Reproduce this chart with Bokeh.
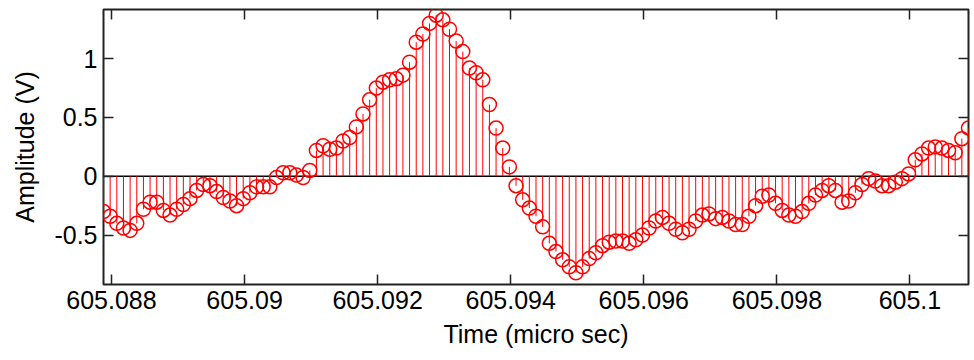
from bokeh.plotting import figure
from bokeh.models import Range1d, FixedTicker, LinearAxis, ColumnDataSource, CustomLabelingPolicy
from bokeh.embed import file_html
from bokeh.resources import INLINE

# ---- data ----
t_start = 605.08788          # micro sec, first sample
dt = 0.0001                  # sampling step (micro sec)
amplitude = [
    -0.30, -0.34, -0.40, -0.44, -0.46, -0.40, -0.28, -0.22, -0.22, -0.29,
    -0.33, -0.28, -0.24, -0.19, -0.12, -0.07, -0.08, -0.13, -0.18, -0.21,
    -0.25, -0.19, -0.14, -0.09, -0.09, -0.09, -0.01, 0.03, 0.03, 0.01,
    -0.01, 0.05, 0.22, 0.26, 0.23, 0.24, 0.30, 0.33, 0.42, 0.53,
    0.65, 0.75, 0.80, 0.82, 0.83, 0.86, 0.97, 1.14, 1.21, 1.30,
    1.37, 1.33, 1.25, 1.15, 1.06, 0.92, 0.88, 0.82, 0.61, 0.41,
    0.24, 0.08, -0.08, -0.20, -0.27, -0.34, -0.43, -0.57, -0.64, -0.71,
    -0.77, -0.82, -0.77, -0.70, -0.65, -0.59, -0.56, -0.55, -0.55, -0.57,
    -0.54, -0.50, -0.44, -0.38, -0.35, -0.40, -0.45, -0.48, -0.45, -0.38,
    -0.33, -0.32, -0.36, -0.35, -0.38, -0.41, -0.41, -0.34, -0.25, -0.17,
    -0.16, -0.23, -0.29, -0.33, -0.34, -0.30, -0.23, -0.16, -0.12, -0.08,
    -0.12, -0.22, -0.21, -0.14, -0.07, -0.02, -0.04, -0.08, -0.08, -0.05,
    -0.02, 0.02, 0.14, 0.19, 0.24, 0.25, 0.24, 0.22, 0.20, 0.32,
    0.41,
]
time_us = [round(t_start + i * dt, 5) for i in range(len(amplitude))]

xtick_values = [605.088, 605.09, 605.092, 605.094, 605.096, 605.098, 605.1]
xtick_labels = ["605.088", "605.09", "605.092", "605.094", "605.096", "605.098", "605.1"]
ytick_values = [-0.5, 0, 0.5, 1]
ytick_labels = ["-0.5", "0", "0.5", "1"]
x_label = "Time (micro sec)"
y_label = "Amplitude (V)"
y_limits = (-0.92, 1.418)

FONT = "Liberation Sans"
AX = "#222222"

src = ColumnDataSource(dict(t=time_us, v=amplitude, z=[0] * len(amplitude)))

p = figure(width=973, height=358, output_backend="svg", toolbar_location=None,
           x_range=Range1d(time_us[0], time_us[-1]),
           y_range=Range1d(*y_limits),
           min_border_left=103, min_border_right=2, min_border_top=9, min_border_bottom=74)
p.background_fill_color = "white"
p.border_fill_color = "white"
p.grid.visible = False
p.outline_line_color = AX
p.outline_line_width = 2

# baseline
p.line(x=[time_us[0], time_us[-1]], y=[0, 0], line_color="black", line_width=1.5)
# stems
p.segment(x0="t", y0="z", x1="t", y1="v", source=src, line_color="#ff0000", line_width=1)
# markers
p.scatter(x="t", y="v", source=src, marker="circle", size=14,
          fill_color=None, line_color="#ff0000", line_width=1.5)

def style(ax, labels=True):
    ax.axis_line_color = None
    ax.major_tick_in = 10
    ax.major_tick_out = 0
    ax.major_tick_line_color = AX
    ax.major_tick_line_width = 1.5
    ax.minor_tick_line_color = None
    if labels:
        ax.major_label_text_font = FONT
        ax.major_label_text_font_size = "25px"
        ax.major_label_text_color = "black"
        ax.axis_label_text_font = FONT
        ax.axis_label_text_font_size = "25px"
        ax.axis_label_text_font_style = "normal"
        ax.axis_label_text_color = "black"
    else:
        ax.major_label_text_font_size = "1px"
        ax.major_label_policy = CustomLabelingPolicy(code="return []")
        ax.major_label_standoff = 0

xa = p.xaxis[0]
ya = p.yaxis[0]
xa.ticker = FixedTicker(ticks=xtick_values)
ya.ticker = FixedTicker(ticks=ytick_values)
xa.major_label_overrides = dict(zip(xtick_values, xtick_labels))
ya.major_label_overrides = dict(zip(ytick_values, ytick_labels))
style(xa)
style(ya)
xa.axis_label = x_label
ya.axis_label = y_label
xa.major_label_standoff = 6
xa.axis_label_standoff = 8
ya.major_label_standoff = 6
ya.axis_label_standoff = 12

top = LinearAxis(ticker=FixedTicker(ticks=xtick_values))
right = LinearAxis(ticker=FixedTicker(ticks=ytick_values))
style(top, labels=False)
style(right, labels=False)
p.add_layout(top, "above")
p.add_layout(right, "right")

open("out.html", "w").write(file_html(p, INLINE))
